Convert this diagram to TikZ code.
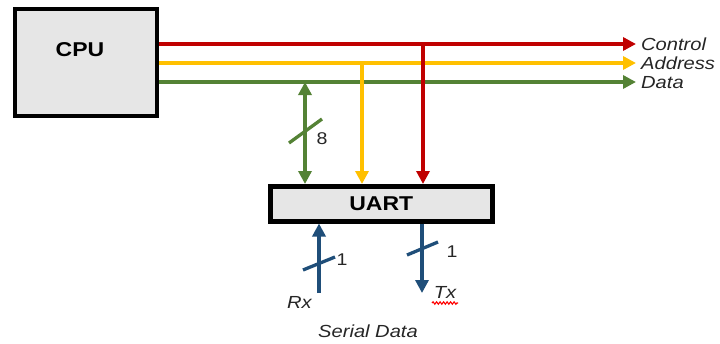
\documentclass[tikz,border=0pt]{standalone}
\usepackage{fontspec}
\setmainfont[FakeStretch=1.15]{Liberation Sans}
\usetikzlibrary{arrows.meta,decorations.pathmorphing}
\definecolor{busred}{HTML}{C00000}
\definecolor{busyellow}{HTML}{FFC000}
\definecolor{busgreen}{HTML}{548235}
\definecolor{serialblue}{HTML}{1F4E79}
\definecolor{boxgray}{HTML}{E6E6E6}
\definecolor{labelgray}{HTML}{262626}
\tikzset{
  unit/.style={draw=black, line width=4.5pt, fill=boxgray, inner sep=0pt},
  bus/.style={line width=3.3pt, -{Triangle[length=13pt,width=13pt]}},
  bibus/.style={line width=3.3pt, {Triangle[length=13pt,width=13pt]}-{Triangle[length=13pt,width=13pt]}},
  tick/.style={line width=3.3pt},
  title/.style={font=\fontsize{20}{20}\selectfont\bfseries, inner sep=0pt},
  signame/.style={font=\fontsize{17.5}{17.5}\selectfont\itshape, text=labelgray, inner sep=0pt, anchor=base west},
  width/.style={font=\fontsize{17}{17}\selectfont, text=labelgray, inner sep=0pt, anchor=base},
  pinname/.style={font=\fontsize{17.5}{17.5}\selectfont\itshape, text=labelgray, inner sep=0pt, anchor=base}
}
\begin{document}
\begin{tikzpicture}[x=1pt,y=-1pt]
\useasboundingbox (0,0) rectangle (720,343);

% processor and peripheral blocks
\node[unit, anchor=north west, minimum width=142pt, minimum height=107pt] (cpu) at (12.5,6.5) {};
\node[title] (cputxt) at (80,50) {CPU};
\node[unit, anchor=north west, minimum width=222pt, minimum height=35pt, title] (uart) at (268,184) {UART};

% bus ends and tap points
\coordinate (ctlend) at (636,44);
\coordinate (addrend) at (636,63);
\coordinate (dataend) at (636,82);
\coordinate (ctltap) at (423,44);
\coordinate (addrtap) at (362,63);
\coordinate (datatap) at (305,82);
\coordinate (rxin) at (319,293);
\coordinate (txout) at (422,293);

% system bus
\draw[bus, busred] (cpu.east |- ctlend) -- (ctlend);
\draw[bus, busyellow] (cpu.east |- addrend) -- (addrend);
\draw[bus, busgreen] (cpu.east |- dataend) -- (dataend);

\node[signame] (ctllbl) at (641,50) {Control};
\node[signame] (addrlbl) at (641,69) {Address};
\node[signame] (datalbl) at (641,88) {Data};

% taps down to the UART
\draw[bus, busyellow] (addrtap) -- (addrtap |- uart.north);
\draw[bus, busred] (ctltap) -- (ctltap |- uart.north);
\draw[bibus, busgreen] (datatap) -- (datatap |- uart.north);
\draw[tick, busgreen] (289,143) -- (322,119);
\node[width] (dw) at (322,144) {8};

% serial lines
\draw[bus, serialblue] (rxin) -- (rxin |- uart.south);
\draw[tick, serialblue] (303,270) -- (335,257);
\node[width] (rxw) at (342,265) {1};
\draw[bus, serialblue] (txout |- uart.south) -- (txout);
\draw[tick, serialblue] (407,255) -- (438,242);
\node[width] (txw) at (452,257) {1};

\node[pinname] (rxlbl) at (299.5,308) {Rx};
\node[pinname] (txlbl) at (445,298) {Tx};
\draw[red, line width=1.1pt, decorate, decoration={snake, amplitude=1.2pt, segment length=3.5pt}] (432,303) -- (458,303);
\node[pinname] (serlbl) at (368,337) {Serial Data};
\end{tikzpicture}
\end{document}
